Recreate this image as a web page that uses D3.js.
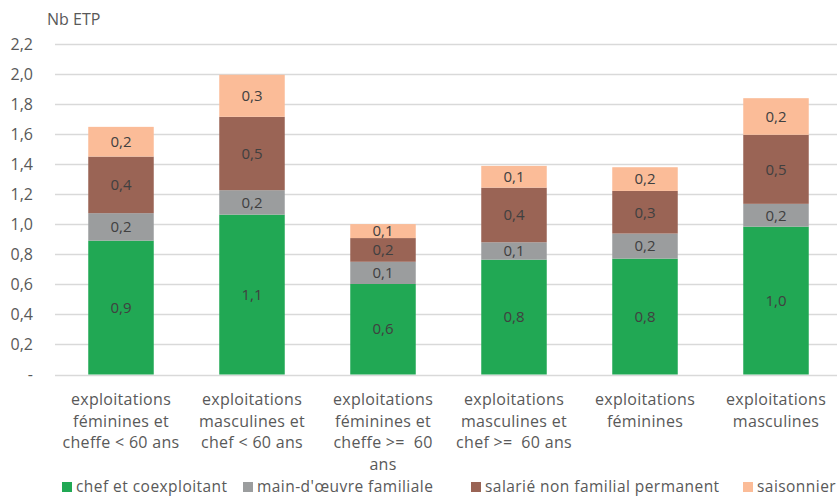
<!DOCTYPE html>
<html>
<head>
<meta charset="utf-8">
<script src="https://cdn.jsdelivr.net/npm/d3@7"></script>
<style>
  html, body { margin: 0; padding: 0; background: #fff; }
  svg { display: block; font-family: "Open Sans", sans-serif; }
</style>
</head>
<body>
<svg id="chart" width="837" height="499"></svg>
<script>
const categories = [
  "exploitations\nféminines et\ncheffe < 60 ans",
  "exploitations\nmasculines et\nchef < 60 ans",
  "exploitations\nféminines et\ncheffe >=  60\nans",
  "exploitations\nmasculines et\nchef >=  60 ans",
  "exploitations\nféminines",
  "exploitations\nmasculines"
];
const seriesNames = ["chef et coexploitant", "main-d'œuvre familiale", "salarié non familial permanent", "saisonnier"];
const chefValues = [0.892, 1.065, 0.603, 0.765, 0.772, 0.985];
const familialeValues = [0.183, 0.163, 0.148, 0.116, 0.167, 0.152];
const salarieValues = [0.377, 0.489, 0.158, 0.364, 0.284, 0.460];
const saisonnierValues = [0.198, 0.280, 0.093, 0.145, 0.158, 0.244];
const yTicks = [0, 0.2, 0.4, 0.6, 0.8, 1.0, 1.2, 1.4, 1.6, 1.8, 2.0, 2.2];
const colors = ["#21a854", "#9b9d9e", "#9a6455", "#fbbc98"];

const seriesArrays = [chefValues, familialeValues, salarieValues, saisonnierValues];
const rows = categories.map((c, i) => {
  const r = { cat: c };
  seriesNames.forEach((s, j) => r[s] = seriesArrays[j][i]);
  return r;
});

const svg = d3.select("#chart");
const x = d3.scaleBand().domain(categories).range([55.5, 841.5]).paddingInner(0.5).paddingOuter(0.25);
const y = d3.scaleLinear().domain([0, 2.2]).range([374.5, 44.3]);
const fmt = v => v === 0 ? "-" : d3.format(".1f")(v).replace(".", ",");

// gridlines
svg.append("g").selectAll("line").data(yTicks).join("line")
  .attr("x1", 55).attr("x2", 837)
  .attr("y1", d => Math.round(y(d)) + 0.5).attr("y2", d => Math.round(y(d)) + 0.5)
  .attr("stroke", "#d9d9d9").attr("stroke-width", 1.3);

// y tick labels
svg.append("g").selectAll("text").data(yTicks).join("text")
  .attr("x", 33).attr("y", d => y(d)).attr("dy", "0.35em")
  .attr("text-anchor", "end").attr("font-size", 16).attr("fill", "#595959")
  .text(d => d === 0 ? "-" : fmt(d));

svg.append("text").attr("x", 47).attr("y", 25).attr("font-size", 16).attr("fill", "#595959").text("Nb ETP");

const stack = d3.stack().keys(seriesNames)(rows);

const layers = svg.append("g").selectAll("g").data(stack).join("g")
  .attr("fill", (d, i) => colors[i]);
layers.selectAll("rect").data(d => d).join("rect")
  .attr("x", d => x(d.data.cat))
  .attr("width", x.bandwidth())
  .attr("y", d => y(d[1]))
  .attr("height", d => y(d[0]) - y(d[1]));

// data labels
const lbl = svg.append("g");
stack.forEach((layer, i) => {
  lbl.selectAll(null).data(layer).join("text")
    .attr("x", d => x(d.data.cat) + x.bandwidth() / 2)
    .attr("y", d => (y(d[0]) + y(d[1])) / 2)
    .attr("dy", "0.35em")
    .attr("text-anchor", "middle").attr("font-size", 15).attr("fill", "#404040")
    .text(d => fmt(d[1] - d[0]));
});

// x labels
const xl = svg.append("g").selectAll("text").data(categories).join("text")
  .attr("text-anchor", "middle").attr("font-size", 16).attr("fill", "#595959")
  .attr("letter-spacing", 0.3)
  .attr("transform", d => `translate(${x(d) + x.bandwidth() / 2},405)`);
xl.selectAll("tspan").data(d => d.split("\n")).join("tspan")
  .attr("x", 0).attr("y", (d, i) => i * 21.7)
  .attr("xml:space", "preserve")
  .style("white-space", "pre")
  .text(d => d);

// legend
const legendX = [62, 243, 471, 743];
const lg = svg.append("g").selectAll("g").data(seriesNames).join("g")
  .attr("transform", (d, i) => `translate(${legendX[i]},482)`);
lg.append("rect").attr("width", 10).attr("height", 10).attr("fill", (d, i) => colors[i]);
lg.append("text").attr("x", 14).attr("y", 5).attr("dy", "0.35em")
  .attr("font-size", 15.5).attr("fill", "#595959").attr("letter-spacing", 0.45).text(d => d);
</script>
</body>
</html>
